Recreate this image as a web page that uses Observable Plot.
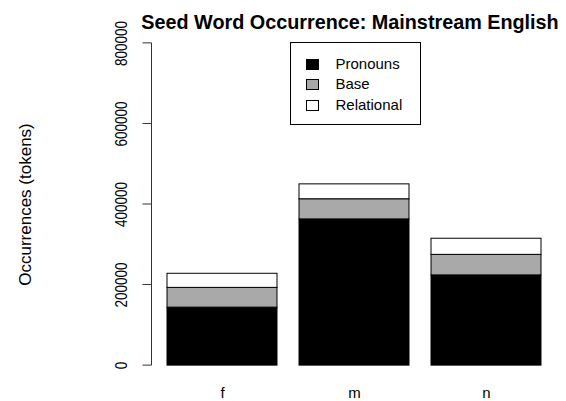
<!DOCTYPE html>
<html><head><meta charset="utf-8">
<script src="https://cdn.jsdelivr.net/npm/d3@7"></script>
<script src="https://cdn.jsdelivr.net/npm/@observablehq/plot@0.6"></script>
<style>
body{margin:0;background:#fff;}
#wrap{position:relative;width:566px;height:401px;font-family:"Liberation Sans",Arial,Helvetica,sans-serif;}
#legend{position:absolute;left:289.5px;top:41.5px;width:131px;height:83px;border:1px solid #000;box-sizing:border-box;background:#fff;}
.row{position:absolute;left:0;height:20px;display:flex;align-items:center;font-size:15px;color:#000;}
.sw{position:absolute;left:15.5px;width:11px;height:9px;border:1px solid #000;}
.lab{position:absolute;left:45px;white-space:nowrap;line-height:20px;}
</style></head><body><div id="wrap"></div>
<script>
const categories = ["f", "m", "n"];
const series = ["Pronouns", "Base", "Relational"];
const pronouns = [144000, 363000, 224000];
const base = [49000, 50000, 51000];
const relational = [35000, 37000, 40000];
const seriesColors = ["black", "darkgray", "white"];
const yTicks = [0, 200000, 400000, 600000, 800000];
const title = "Seed Word Occurrence: Mainstream English";
const yLabel = "Occurrences (tokens)";

const values = [pronouns, base, relational];
const rows = [];
series.forEach((s, si) => categories.forEach((c, ci) => rows.push({category: c, series: s, value: values[si][ci]})));

function yAxisLine(index, scales, vals, dimensions) {
  const g = d3.create("svg:g").attr("stroke", "#333").attr("fill", "none").attr("stroke-width", 1);
  const x0 = dimensions.marginLeft - 0.5;
  g.append("line").attr("x1", x0).attr("x2", x0)
    .attr("y1", scales.y(yTicks[0])).attr("y2", scales.y(yTicks[yTicks.length - 1]));
  for (const t of yTicks) {
    g.append("line").attr("x1", x0 - 9).attr("x2", x0).attr("y1", scales.y(t)).attr("y2", scales.y(t));
  }
  return g.node();
}

const chart = Plot.plot({
  width: 566,
  height: 401,
  marginLeft: 152,
  marginRight: 10,
  marginTop: 30,
  marginBottom: 23,
  style: {fontFamily: "Liberation Sans, Arial, Helvetica, sans-serif", fontSize: "13px", background: "white", color: "black"},
  x: {type: "band", domain: categories, paddingInner: 0.2 / 1.2, paddingOuter: 0.1136, axis: null},
  y: {domain: [-32000, 832000], axis: null},
  color: {domain: series, range: seriesColors},
  marks: [
    Plot.barY(rows, {x: "category", y: "value", fill: "series", order: series, stroke: "black", strokeWidth: 1}),
    yAxisLine,
    Plot.text(yTicks, {y: d => d, text: d => String(d), frameAnchor: "left", dx: -31, rotate: -90, fontSize: 13.5, textAnchor: "middle", lineAnchor: "middle", fill: "black"}),
    Plot.text(categories, {x: d => d, text: d => d, frameAnchor: "bottom", dy: 15, fontSize: 15, textAnchor: "middle", lineAnchor: "middle", fill: "black"}),
    Plot.text([yLabel], {text: d => d, frameAnchor: "left", dx: -127, rotate: -90, fontSize: 17, textAnchor: "middle", lineAnchor: "middle", fill: "black"}),
    Plot.text([title], {text: d => d, frameAnchor: "top", dx: -4.5, dy: -8, fontSize: 19.8, fontWeight: "bold", textAnchor: "middle", lineAnchor: "middle", fill: "black"})
  ]
});
const wrap = document.getElementById("wrap");
wrap.appendChild(chart);

// widen the rotated y tick labels (the reference glyphs are wider than tall)
const tickStrings = new Set(yTicks.map(String));
chart.querySelectorAll("text").forEach(t => {
  if (!tickStrings.has(t.textContent)) return;
  const tr = t.getAttribute("transform");
  if (tr && /rotate/.test(tr)) t.setAttribute("transform", tr + " scale(1,1.25)");
});

const legend = document.createElement("div");
legend.id = "legend";
series.forEach((s, i) => {
  const row = document.createElement("div");
  row.className = "row";
  row.style.top = (11 + i * 20.5) + "px";
  const sw = document.createElement("div");
  sw.className = "sw";
  sw.style.background = seriesColors[i];
  sw.style.top = "5px";
  const lab = document.createElement("span");
  lab.className = "lab";
  lab.textContent = s;
  row.appendChild(sw);
  row.appendChild(lab);
  legend.appendChild(row);
});
wrap.appendChild(legend);
</script>
</body></html>
